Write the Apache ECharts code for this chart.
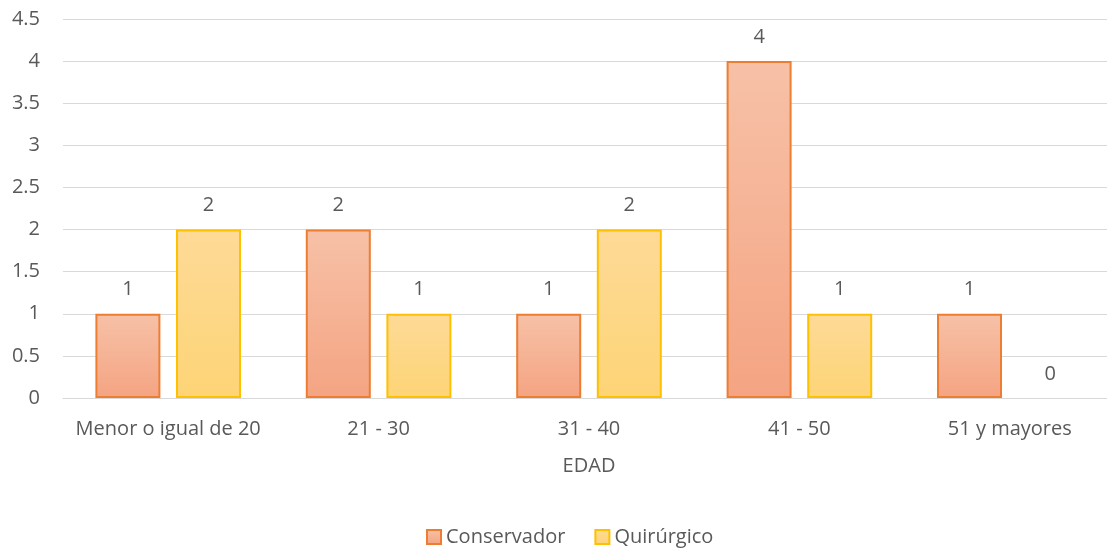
<!DOCTYPE html>
<html>
<head>
<meta charset="utf-8">
<script src="https://cdn.jsdelivr.net/npm/echarts@6/dist/echarts.min.js"></script>
<style>
  html, body { margin: 0; padding: 0; background: #fff; overflow: hidden; }
  /* plot area runs slightly past the right edge of the window */
  #chart { width: 1116px; height: 548px; }
</style>
</head>
<body>
<div id="chart"></div>
<script>
// Age groups and patient counts per treatment type
const categories = ['Menor o igual de 20', '21 - 30', '31 - 40', '41 - 50', '51 y mayores'];
const conservador = [1, 2, 1, 4, 1];
const quirurgico = [2, 1, 2, 1, 0];
const yTicks = [0, 0.5, 1, 1.5, 2, 2.5, 3, 3.5, 4, 4.5];

const FONT = '"Open Sans", "Liberation Sans", sans-serif';
const TEXT = '#595959';
const FS = 20;

function grad(top, bottom) {
  return new echarts.graphic.LinearGradient(0, 0, 0, 1, [
    { offset: 0, color: top },
    { offset: 1, color: bottom }
  ]);
}

// zero-height bars get no outline so only the label remains
function toItems(values) {
  return values.map(v => v === 0 ? { value: v, itemStyle: { borderWidth: 0 } } : v);
}

const labelStyle = { show: true, position: 'top', distance: 14, color: TEXT, fontSize: FS, fontFamily: FONT };

const chart = echarts.init(document.getElementById('chart'));
chart.setOption({
  animation: false,
  textStyle: { fontFamily: FONT },
  grid: { left: 63, right: 1, top: 19, bottom: 150, containLabel: false },
  legend: {
    top: 522,
    left: 421,
    icon: 'rect',
    itemWidth: 14,
    itemHeight: 14,
    itemGap: 29,
    textStyle: { color: TEXT, fontSize: FS, fontFamily: FONT },
    data: ['Conservador', 'Quirúrgico']
  },
  xAxis: {
    type: 'category',
    data: categories,
    name: 'EDAD',
    nameLocation: 'middle',
    nameGap: 58,
    nameTextStyle: { color: TEXT, fontSize: FS, fontFamily: FONT },
    axisLine: { lineStyle: { color: '#D9D9D9', width: 1 } },
    axisTick: { show: false },
    axisLabel: { color: TEXT, fontSize: FS, margin: 21, interval: 0, fontFamily: FONT }
  },
  yAxis: {
    type: 'value',
    min: yTicks[0],
    max: yTicks[yTicks.length - 1],
    interval: yTicks[1] - yTicks[0],
    axisLine: { show: false },
    axisTick: { show: false },
    splitLine: { lineStyle: { color: '#D9D9D9', width: 1 } },
    axisLabel: { color: TEXT, fontSize: FS, margin: 23, fontFamily: FONT }
  },
  series: [
    {
      name: 'Conservador',
      type: 'bar',
      data: toItems(conservador),
      barWidth: 65,
      barGap: '24%',
      itemStyle: {
        color: grad('#F7C1A7', '#F4A482'),
        borderColor: '#ED7D31',
        borderWidth: 2
      },
      label: labelStyle
    },
    {
      name: 'Quirúrgico',
      type: 'bar',
      data: toItems(quirurgico),
      barWidth: 65,
      itemStyle: {
        color: grad('#FDDA97', '#FED476'),
        borderColor: '#FFC000',
        borderWidth: 2
      },
      label: labelStyle
    }
  ]
});
</script>
</body>
</html>
